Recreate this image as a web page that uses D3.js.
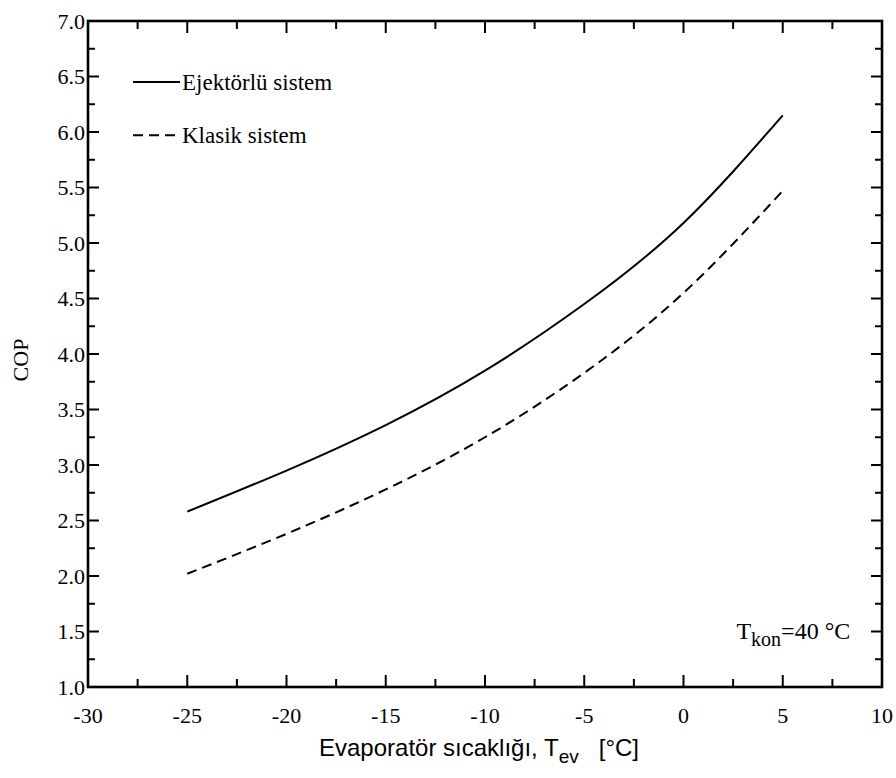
<!DOCTYPE html>
<html>
<head>
<meta charset="utf-8">
<script src="https://cdn.jsdelivr.net/npm/d3@7"></script>
<style>
  body { margin: 0; background: #fff; }
  svg { display: block; }
  .serif { font-family: 'Liberation Serif', 'Times New Roman', Times, 'DejaVu Serif', 'Noto Serif', serif; }
  .sans { font-family: 'Liberation Sans', Arial, Helvetica, sans-serif; }
</style>
</head>
<body>
<svg id="chart" width="896" height="778"></svg>
<script>
// evaporator temperature, degC
var tev = [-25, -20, -15, -10, -5, 0, 5];
// COP, ejector system (solid)
var copEjector = [2.58, 2.95, 3.36, 3.85, 4.45, 5.18, 6.15];
// COP, classic system (dashed)
var copClassic = [2.02, 2.38, 2.78, 3.25, 3.83, 4.55, 5.47];

var xTicks = [-30, -25, -20, -15, -10, -5, 0, 5, 10];
var yTicks = [1.0, 1.5, 2.0, 2.5, 3.0, 3.5, 4.0, 4.5, 5.0, 5.5, 6.0, 6.5, 7.0];

var margin = {left: 88, right: 14, top: 21, bottom: 91},
    width = 896 - margin.left - margin.right,
    height = 778 - margin.top - margin.bottom;

var svg = d3.select('#chart');
var g = svg.append('g').attr('transform', 'translate(' + margin.left + ',' + margin.top + ')');

var x = d3.scaleLinear().domain([-30, 10]).range([0, width]);
var y = d3.scaleLinear().domain([1, 7]).range([height, 0]);

var xMinor = d3.range(-30, 10.01, 2.5),
    yMinor = d3.range(1, 7.001, 0.25);

// ticks on all four sides, pointing inward
function tickLines(cls, data, fn) {
  g.selectAll('.' + cls).data(data).enter()
    .append('line').attr('class', cls)
    .each(fn)
    .attr('stroke', '#000').attr('stroke-width', 2);
}
tickLines('xt-b', xMinor, function(d, i) {
  var len = (i % 2 == 0) ? 12 : 8;
  d3.select(this).attr('x1', x(d)).attr('x2', x(d)).attr('y1', height).attr('y2', height - len);
});
tickLines('xt-t', xMinor, function(d, i) {
  var len = (i % 2 == 0) ? 12 : 8;
  d3.select(this).attr('x1', x(d)).attr('x2', x(d)).attr('y1', 0).attr('y2', len);
});
tickLines('yt-l', yMinor, function(d, i) {
  var len = (i % 2 == 0) ? 11 : 7;
  d3.select(this).attr('y1', y(d)).attr('y2', y(d)).attr('x1', 0).attr('x2', len);
});
tickLines('yt-r', yMinor, function(d, i) {
  var len = (i % 2 == 0) ? 11 : 7;
  d3.select(this).attr('y1', y(d)).attr('y2', y(d)).attr('x1', width).attr('x2', width - len);
});

// frame
g.append('rect')
  .attr('width', width).attr('height', height)
  .attr('fill', 'none').attr('stroke', '#000').attr('stroke-width', 2.6);

// tick labels
g.selectAll('.xlab').data(xTicks).enter()
  .append('text').attr('class', 'xlab serif')
  .attr('x', function(d){ return x(d); })
  .attr('y', height + 36)
  .attr('text-anchor', 'middle')
  .style('font-size', '22px')
  .text(function(d){ return d; });

g.selectAll('.ylab').data(yTicks).enter()
  .append('text').attr('class', 'ylab serif')
  .attr('x', -3)
  .attr('y', function(d){ return y(d); })
  .attr('dy', '0.35em')
  .attr('text-anchor', 'end')
  .style('font-size', '22px')
  .text(function(d){ return d.toFixed(1); });

// axis titles
var xt = svg.append('text')
  .attr('class', 'sans')
  .attr('x', margin.left + width / 2 - 6)
  .attr('y', 756)
  .attr('text-anchor', 'middle')
  .style('font-size', '24px');
xt.append('tspan').text('Evaporatör sıcaklığı, T');
xt.append('tspan').attr('dy', 7).style('font-size', '19px').text('ev');
xt.append('tspan').attr('dy', -7).text('\u00a0\u00a0 [°C]');

svg.append('text')
  .attr('class', 'serif')
  .attr('transform', 'translate(28,360) rotate(-90)')
  .attr('text-anchor', 'middle')
  .style('font-size', '22px')
  .text('COP');

// curves
var pts1 = tev.map(function(t, i){ return [t, copEjector[i]]; }),
    pts2 = tev.map(function(t, i){ return [t, copClassic[i]]; });

var line = d3.line()
  .x(function(d){ return x(d[0]); })
  .y(function(d){ return y(d[1]); })
  .curve(d3.curveNatural);

g.append('path').datum(pts1)
  .attr('d', line)
  .attr('fill', 'none').attr('stroke', '#000').attr('stroke-width', 2);

g.append('path').datum(pts2)
  .attr('d', line)
  .attr('fill', 'none').attr('stroke', '#000').attr('stroke-width', 2)
  .attr('stroke-dasharray', '10,6');

// legend
var legend = [
  {label: 'Ejektörlü sistem', dash: null, v: 6.45},
  {label: 'Klasik sistem', dash: '10,6', v: 5.97}
];
legend.forEach(function(d) {
  g.append('line')
    .attr('x1', 45).attr('x2', 92)
    .attr('y1', y(d.v)).attr('y2', y(d.v))
    .attr('stroke', '#000').attr('stroke-width', 2)
    .attr('stroke-dasharray', d.dash);
  g.append('text')
    .attr('class', 'serif')
    .attr('x', 94).attr('y', y(d.v)).attr('dy', '0.35em')
    .style('font-size', '23px')
    .text(d.label);
});

// condenser temperature note
var note = g.append('text')
  .attr('class', 'serif')
  .attr('x', x(8.4)).attr('y', y(1.43))
  .attr('text-anchor', 'end')
  .style('font-size', '24px');
note.append('tspan').text('T');
note.append('tspan').attr('dy', 7).style('font-size', '20px').text('kon');
note.append('tspan').attr('dy', -7).text('=40 °C');
</script>
</body>
</html>
